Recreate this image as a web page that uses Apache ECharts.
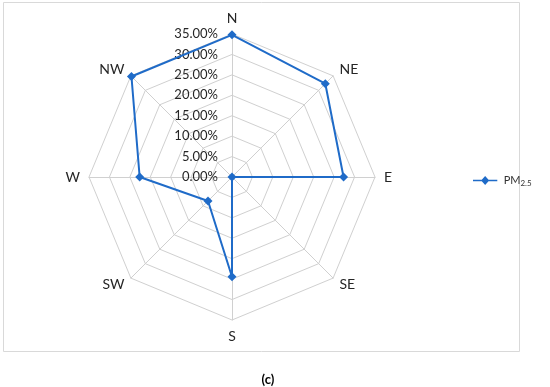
<!DOCTYPE html>
<html><head><meta charset="utf-8">
<script src="https://cdn.jsdelivr.net/npm/echarts@6/dist/echarts.min.js"></script>
<style>html,body{margin:0;padding:0;background:#fff}#c{width:550px;height:387px}</style>
</head><body><div id="c"></div>
<script>
const directions = ['N','NE','E','SE','S','SW','W','NW'];
const pm25 = [34.8, 32.3, 27.3, 0, 24.4, 8.3, 22.6, 34.8];
const tickValues = [0,5,10,15,20,25,30,35];
const seriesName = 'PM2.5';

// ECharts radar runs counter-clockwise; reorder so directions go clockwise from N.
const order = [0, 7, 6, 5, 4, 3, 2, 1];
const dirOrdered = order.map(i => directions[i]);
const valOrdered = order.map(i => pm25[i]);

const FONT = 'Lato';
const chart = echarts.init(document.getElementById('c'));
chart.setOption({
  backgroundColor: '#fff',
  animation: false,
  textStyle: {fontFamily: FONT},
  title: {text: '(c)', left: 263, top: 368, textAlign: 'center',
    textStyle: {fontFamily: FONT, fontSize: 13, fontWeight: 'bold', color: '#000'}},
  graphic: [{type: 'rect', shape: {x: 3.5, y: 2.5, width: 516, height: 349},
    style: {fill: 'none', stroke: '#d9d9d9', lineWidth: 1}}],
  legend: {
    left: 468, top: 170, itemWidth: 27, itemHeight: 9, itemGap: 5,
    data: [{name: seriesName, icon: 'path://M0,4.2 L27,4.2 L27,5.8 L0,5.8 Z M13.5,0 L18,5 L13.5,10 L9,5 Z'}],
    formatter: () => 'PM{sub|2.5}',
    textStyle: {fontFamily: FONT, fontSize: 11, color: '#333',
      rich: {sub: {fontSize: 8, padding: [6, 0, 0, 0], fontFamily: FONT, color: '#333'}}}
  },
  radar: {
    center: [232, 177], radius: 143, startAngle: 90, shape: 'polygon',
    splitNumber: 7,
    indicator: dirOrdered.map(d => ({name: d, min: 0, max: tickValues[tickValues.length - 1]})),
    axisName: {color: '#262626', fontSize: 14, fontFamily: FONT},
    nameGap: 9,
    splitLine: {lineStyle: {color: '#d0d0d0', width: 1}},
    splitArea: {show: false},
    axisLine: {lineStyle: {color: '#d0d0d0', width: 1}},
    axisTick: {show: false},
    axisLabel: {show: false}
  },
  polar: {center: [232, 177], radius: 143},
  angleAxis: {show: false, startAngle: 90, min: 0, max: 360},
  radiusAxis: {
    min: 0, max: 35, interval: 5,
    axisLine: {show: false}, axisTick: {show: false}, splitLine: {show: false},
    axisLabel: {show: true, margin: 14, color: '#262626', fontSize: 13, fontFamily: FONT,
      formatter: v => v.toFixed(2) + '%'}
  },
  series: [{
    type: 'radar', name: seriesName,
    symbol: 'diamond', symbolSize: 9,
    lineStyle: {color: '#1f6bc8', width: 2},
    itemStyle: {color: '#1f6bc8'},
    data: [{name: seriesName, value: valOrdered}]
  }]
});
</script></body></html>
